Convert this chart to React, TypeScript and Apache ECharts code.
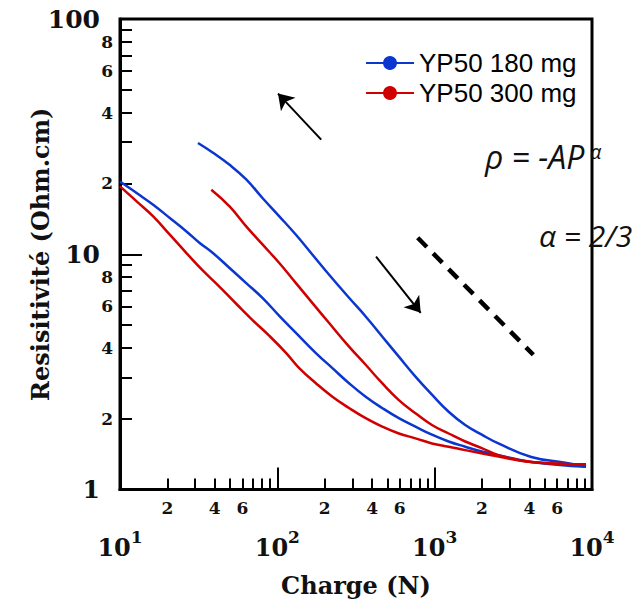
import React, { useEffect, useRef } from "react";
import * as echarts from "echarts";

// ---- Data (Charge in N, Resistivity in Ohm.cm) ----
const NAME_180 = "YP50 180 mg";
const NAME_300 = "YP50 300 mg";

const blueUpper: [number, number][] = [
  [31.3, 29.7], [39.0, 27.0], [49.7, 24.0], [63.4, 20.8], [80.7, 17.3], [102.9, 14.5],
  [131.3, 12.1], [167.3, 9.95], [213.4, 8.18], [285.6, 6.53], [364.3, 5.44], [464, 4.47],
  [592, 3.67], [755, 3.02], [961, 2.53], [1227, 2.14], [1564, 1.88], [1993, 1.71],
  [2542, 1.57], [4111, 1.375], [6747, 1.3], [9162, 1.25],
];
const redUpper: [number, number][] = [
  [38.05, 18.8], [49.7, 15.97], [63.4, 13.13], [80.7, 10.98], [102.9, 9.18], [131.3, 7.54],
  [167.3, 6.2], [213.4, 5.1], [285.6, 4.05], [364.3, 3.39], [464, 2.83], [592, 2.4],
  [755, 2.11], [961, 1.88], [1227, 1.73], [1564, 1.6], [1993, 1.5], [2542, 1.4],
  [4111, 1.31], [9162, 1.28],
];
const blueLower: [number, number][] = [
  [10, 20.4], [12.76, 18.2], [16.25, 16.24], [20.73, 14.26], [26.44, 12.5], [32.1, 11.16],
  [38.95, 10.12], [49.7, 8.74], [63.4, 7.54], [80.7, 6.51], [102.9, 5.47], [131.3, 4.63],
  [175.8, 3.8], [223.9, 3.28], [285.6, 2.83], [364.3, 2.48], [464, 2.22], [592, 2.01],
  [755, 1.85], [961, 1.71], [1227, 1.6], [1564, 1.52], [1993, 1.45], [2542, 1.4],
  [4111, 1.31], [9162, 1.25],
];
const redLower: [number, number][] = [
  [10, 19.44], [12.76, 16.78], [16.25, 14.48], [20.73, 12.11], [26.44, 10.12], [33.67, 8.51],
  [42.95, 7.27], [54.78, 6.16], [69.79, 5.24], [89.0, 4.5], [113.5, 3.81], [137.8, 3.28],
  [175.8, 2.83], [223.9, 2.48], [285.6, 2.22], [364.3, 2.01], [464, 1.85], [592, 1.73],
  [755, 1.65], [961, 1.57], [1227, 1.52], [1564, 1.47], [2542, 1.38], [4111, 1.31],
  [9162, 1.28],
];

// slope -2/3 guide and the two arrows (data coordinates)
const guideLine: [number, number][] = [[780, 11.75], [4236, 3.74]];
const arrowUp: [number, number][] = [[190, 30.7], [101, 48.2]];
const arrowDown: [number, number][] = [[424, 9.76], [815, 5.64]];

// ---- Ticks ----
const xDecadeExponents = [1, 2, 3];
const xMinorMultipliers = [2, 3, 4, 5, 6, 7, 8, 9];
const xMinorLabelMultipliers = [2, 4, 6];
const xMajorTickExponents = [2, 3];
const xMajorLabelExponents = [1, 2, 3, 4];

const yDecadeExponents = [0, 1];
const yMinorMultipliers = [2, 3, 4, 5, 6, 7, 8, 9];
const yMinorLabelMultipliers = [2, 4, 6, 8];
const yMajorTickExponents = [1];
const yMajorLabelExponents = [0, 1, 2];

const BLUE = "#0b36cf";
const RED = "#d00000";
const INK = "#111";
const SERIF = "DejaVu Serif";

const logPts = (pts: [number, number][]) => pts.map(([x, y]) => [Math.log10(x), Math.log10(y)]);
const minorVals = (decs: number[], ks: number[]) =>
  decs.flatMap((d) => ks.map((k) => d + Math.log10(k)));
const mantissa = (v: number) => Math.round(Math.pow(10, v - Math.floor(v + 1e-9)));

export default function App() {
  const ref = useRef<HTMLDivElement>(null);
  useEffect(() => {
    if (!ref.current) return;
    const chart = echarts.init(ref.current, undefined, { renderer: "svg" });

    const curve = (name: string, color: string, pts: [number, number][]) => ({
      type: "line",
      name,
      data: logPts(pts),
      xAxisIndex: 0,
      yAxisIndex: 0,
      showSymbol: false,
      symbol: "circle",
      smooth: 0.45,
      color,
      itemStyle: { color },
      lineStyle: { color, width: 2.5 },
      z: 3,
    });

    const minorLabelStyle = {
      fontFamily: SERIF,
      fontWeight: "bold",
      fontSize: 17,
      lineHeight: 17,
      color: INK,
    };

    chart.setOption({
      animation: false,
      backgroundColor: "#fff",
      grid: {
        left: 120,
        right: 52,
        top: 19,
        bottom: 112.5,
        show: true,
        borderColor: "#000",
        borderWidth: 3,
        backgroundColor: "transparent",
        outerBoundsMode: "none",
      },
      legend: {
        data: [NAME_180, NAME_300],
        orient: "vertical",
        left: 365,
        top: 50,
        padding: 0,
        itemGap: 4,
        itemWidth: 48,
        itemHeight: 17.5,
        textStyle: { fontFamily: "Liberation Sans", fontSize: 26, lineHeight: 26, color: "#000" },
      },
      xAxis: [
        {
          type: "value",
          min: 1,
          max: 4,
          position: "bottom",
          name: "Charge (N)",
          nameLocation: "middle",
          nameGap: 84,
          nameMoveOverlap: false,
          nameTextStyle: { fontFamily: SERIF, fontWeight: "bold", fontSize: 24, color: INK },
          axisLine: { show: true, lineStyle: { color: "#000", width: 3 } },
          axisTick: {
            show: true,
            inside: true,
            length: 11,
            lineStyle: { color: "#000", width: 2 },
            customValues: minorVals(xDecadeExponents, xMinorMultipliers),
          },
          axisLabel: {
            show: true,
            margin: 10,
            customValues: minorVals(xDecadeExponents, xMinorLabelMultipliers),
            formatter: (v: number) => String(mantissa(v)),
            ...minorLabelStyle,
          },
          splitLine: { show: false },
        },
        {
          type: "value",
          min: 1,
          max: 4,
          position: "bottom",
          axisLine: { show: false },
          axisTick: {
            show: true,
            inside: true,
            length: 22,
            lineStyle: { color: "#000", width: 2 },
            customValues: xMajorTickExponents,
          },
          axisLabel: {
            show: true,
            margin: 39,
            showMinLabel: true,
            showMaxLabel: true,
            customValues: xMajorLabelExponents,
            formatter: (v: number) => `{b|10}{s|${Math.round(v)}}`,
            rich: {
              b: {
                fontFamily: SERIF,
                fontWeight: "bold",
                fontSize: 24,
                lineHeight: 24,
                padding: [14, 0, 0, 0],
                color: INK,
              },
              s: {
                fontFamily: SERIF,
                fontWeight: "bold",
                fontSize: 17,
                lineHeight: 17,
                verticalAlign: "top",
                color: INK,
              },
            },
          },
          splitLine: { show: false },
        },
      ],
      yAxis: [
        {
          type: "value",
          min: 0,
          max: 2,
          position: "left",
          name: "Resisitivité (Ohm.cm)",
          nameLocation: "middle",
          nameGap: 68,
          nameMoveOverlap: false,
          nameTextStyle: { fontFamily: SERIF, fontWeight: "bold", fontSize: 24, color: INK },
          axisLine: { show: true, lineStyle: { color: "#000", width: 3 } },
          axisTick: {
            show: true,
            inside: true,
            length: 12,
            lineStyle: { color: "#000", width: 2 },
            customValues: minorVals(yDecadeExponents, yMinorMultipliers),
          },
          axisLabel: {
            show: true,
            margin: 7,
            customValues: minorVals(yDecadeExponents, yMinorLabelMultipliers),
            formatter: (v: number) => String(mantissa(v)),
            ...minorLabelStyle,
          },
          splitLine: { show: false },
        },
        {
          type: "value",
          min: 0,
          max: 2,
          position: "left",
          axisLine: { show: false },
          axisTick: {
            show: true,
            inside: true,
            length: 22,
            lineStyle: { color: "#000", width: 2 },
            customValues: yMajorTickExponents,
          },
          axisLabel: {
            show: true,
            margin: 20,
            showMinLabel: true,
            showMaxLabel: true,
            customValues: yMajorLabelExponents,
            formatter: (v: number) => String(Math.round(Math.pow(10, v))),
            fontFamily: SERIF,
            fontWeight: "bold",
            fontSize: 25,
            color: INK,
          },
          splitLine: { show: false },
        },
      ],
      series: [
        curve(NAME_180, BLUE, blueUpper),
        curve(NAME_180, BLUE, blueLower),
        curve(NAME_300, RED, redUpper),
        curve(NAME_300, RED, redLower),
        {
          type: "line",
          name: "guide",
          data: logPts(guideLine),
          showSymbol: false,
          symbol: "none",
          lineStyle: { color: "#000", width: 4.5, type: [13, 9], cap: "butt" },
          z: 4,
        },
        {
          type: "lines",
          name: "arrows",
          coordinateSystem: "cartesian2d",
          xAxisIndex: 0,
          yAxisIndex: 0,
          symbol: ["none", "arrow"],
          symbolSize: 15,
          lineStyle: { color: "#000", width: 2, opacity: 1 },
          data: [{ coords: logPts(arrowUp) }, { coords: logPts(arrowDown) }],
          z: 4,
        },
      ],
      graphic: [
        {
          type: "text",
          x: 485,
          y: 156,
          z: 10,
          style: {
            text: "ρ = -AP",
            fontFamily: "Open Sans",
            fontStyle: "italic",
            fontSize: 32,
            fill: INK,
            align: "left",
            verticalAlign: "middle",
          },
        },
        {
          type: "text",
          x: 590,
          y: 151,
          z: 10,
          style: {
            text: "α",
            fontFamily: "Open Sans",
            fontStyle: "italic",
            fontSize: 20,
            fill: INK,
            align: "left",
            verticalAlign: "middle",
          },
        },
        {
          type: "text",
          x: 539,
          y: 235,
          z: 10,
          style: {
            text: "α = 2/3",
            fontFamily: "Open Sans",
            fontStyle: "italic",
            fontSize: 30,
            fill: INK,
            align: "left",
            verticalAlign: "middle",
          },
        },
      ],
    });

    return () => chart.dispose();
  }, []);

  return (
    <div
      ref={ref}
      style={{ position: "fixed", left: 0, top: 0, width: 644, height: 602, background: "#fff" }}
    />
  );
}
